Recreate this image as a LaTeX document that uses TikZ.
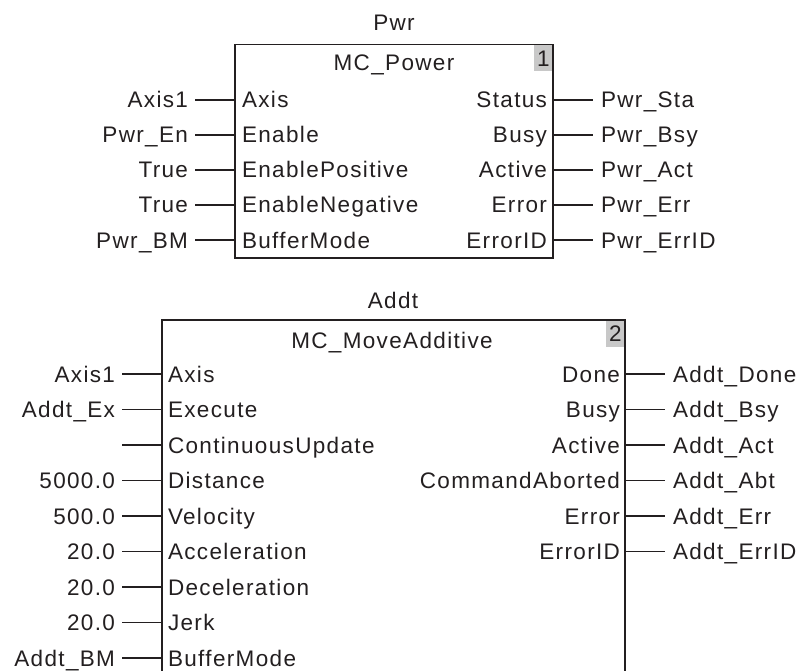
\documentclass[tikz,border=0pt]{standalone}
\usepackage{fontspec}
\setmainfont[LetterSpace=6]{Liberation Sans}
\definecolor{ink}{HTML}{231F20}
\definecolor{tag}{HTML}{C8C8C8}
\begin{document}
\begin{tikzpicture}[x=1pt,y=-1pt,
  fb/.style={draw=ink, line width=1.3pt, inner sep=0pt, outer sep=0pt},
  lab/.style={inner sep=0pt, outer sep=0pt, text height=16pt, text depth=0pt, text=ink, font=\fontsize{22.5}{26}\selectfont},
  wire/.style={draw=ink, line width=1.3pt},
  tagbox/.style={lab, fill=tag, minimum width=18pt, minimum height=26pt, anchor=north east}]
\useasboundingbox (0,0) rectangle (803,671);
\clip (0,0) rectangle (803,671);
% ---- block 1 ----
\node[lab] (inst1) at (394,23) {Pwr};
\node[tagbox] (t1) at (552.3,45.2) {1};
\node[fb, minimum width=318pt, minimum height=213.5pt] (b1) at (394,151.25) {};
\node[lab] (f1) at (394,63) {MC\_Power};
\foreach \yy/\outer/\inner [count=\k] in {100/Axis1/Axis, 135/Pwr\_En/Enable, 170/True/EnablePositive, 205/True/EnableNegative, 240/Pwr\_BM/BufferMode} {
  \node[lab, anchor=east] (p1o\k) at (188,\yy) {\outer};
  \node[lab, anchor=west] (p1i\k) at (242,\yy) {\inner};
  \draw[wire] (p1i\k.west -| b1.west) -- ++(-40pt,0);
}
\foreach \yy/\inner/\outer [count=\k] in {100/Status/Pwr\_Sta, 135/Busy/Pwr\_Bsy, 170/Active/Pwr\_Act, 205/Error/Pwr\_Err, 240/ErrorID/Pwr\_ErrID} {
  \node[lab, anchor=east] (q1i\k) at (547,\yy) {\inner};
  \node[lab, anchor=west] (q1o\k) at (601,\yy) {\outer};
  \draw[wire] (q1i\k.east -| b1.east) -- ++(40pt,0);
}
% ---- block 2 ----
\node[lab] (inst2) at (393,300) {Addt};
\node[tagbox] (t2) at (624.3,320.7) {2};
\node[fb, minimum width=463pt, minimum height=400pt] (b2) at (393.5,520) {};
\node[lab] (f2) at (392,340) {MC\_MoveAdditive};
\foreach \yy/\outer/\inner [count=\k] in {374/Axis1/Axis, 409.5/Addt\_Ex/Execute, 445//ContinuousUpdate, 480.5/5000.0/Distance, 516/500.0/Velocity, 551.5/20.0/Acceleration, 587/20.0/Deceleration, 622.5/20.0/Jerk, 658/Addt\_BM/BufferMode} {
  \node[lab, anchor=east] (p2o\k) at (115,\yy) {\outer};
  \node[lab, anchor=west] (p2i\k) at (168,\yy) {\inner};
  \draw[wire] (p2i\k.west -| b2.west) -- ++(-40pt,0);
}
\foreach \yy/\inner/\outer [count=\k] in {374/Done/Addt\_Done, 409.5/Busy/Addt\_Bsy, 445/Active/Addt\_Act, 480.5/CommandAborted/Addt\_Abt, 516/Error/Addt\_Err, 551.5/ErrorID/Addt\_ErrID} {
  \node[lab, anchor=east] (q2i\k) at (620,\yy) {\inner};
  \node[lab, anchor=west] (q2o\k) at (673,\yy) {\outer};
  \draw[wire] (q2i\k.east -| b2.east) -- ++(40pt,0);
}
\end{tikzpicture}
\end{document}
